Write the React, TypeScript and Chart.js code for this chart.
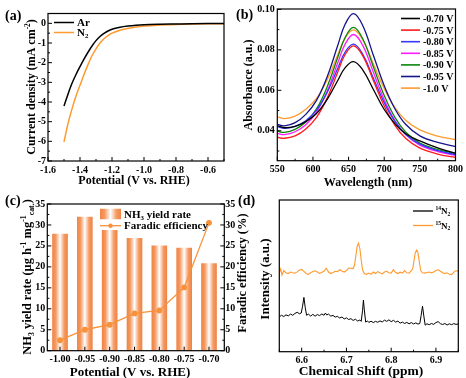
import React, { useEffect, useRef } from 'react';
import { Chart, registerables } from 'chart.js';

Chart.register(...registerables);

const FONT = "'Liberation Serif', 'Times New Roman', serif";
const ORANGE = '#FF9A2E';

// ---------- (a) LSV ----------
const lsvPotential = [-1.5, -1.475, -1.45, -1.425, -1.4, -1.375, -1.35, -1.325, -1.3, -1.275, -1.25, -1.225, -1.2, -1.15, -1.1, -1.05, -1.0, -0.9, -0.8, -0.7, -0.6, -0.5];
const lsvAr = [-4.2, -3.6, -3.05, -2.6, -2.2, -1.82, -1.47, -1.15, -0.88, -0.67, -0.51, -0.39, -0.3, -0.2, -0.14, -0.1, -0.075, -0.05, -0.035, -0.02, -0.01, -0.005];
const lsvN2 = [-6.03, -5.1, -4.35, -3.7, -3.15, -2.6, -2.1, -1.65, -1.3, -1.0, -0.78, -0.62, -0.5, -0.35, -0.26, -0.19, -0.14, -0.09, -0.06, -0.04, -0.025, -0.015];
const lsvXTicks = [-1.6, -1.4, -1.2, -1.0, -0.8, -0.6];
const lsvXLabels = ['-1.6', '-1.4', '-1.2', '-1.0', '-0.8', '-0.6'];
const lsvXMinor = [-1.5, -1.3, -1.1, -0.9, -0.7, -0.5];
const lsvYTicks = [0, -1, -2, -3, -4, -5, -6, -7];
const lsvYLabels = ['0', '-1', '-2', '-3', '-4', '-5', '-6', '-7'];
const lsvYMinor = [-0.5, -1.5, -2.5, -3.5, -4.5, -5.5, -6.5];

// ---------- (b) UV-vis ----------
const wavelengths = [550, 560, 575, 590, 605, 620, 635, 645, 657, 670, 685, 700, 715, 730, 750, 775, 800];
const uvLabels = ['-0.70 V', '-0.75 V', '-0.80 V', '-0.85 V', '-0.90 V', '-0.95 V', '-1.0 V'];
const uv070 = [0.0425, 0.0415, 0.0422, 0.0445, 0.0485, 0.0555, 0.0650, 0.0711, 0.0742, 0.0700, 0.0603, 0.0505, 0.0435, 0.0385, 0.0350, 0.0315, 0.0288];
const uv075 = [0.0368, 0.0363, 0.0375, 0.0409, 0.0466, 0.0562, 0.0692, 0.0776, 0.0820, 0.0770, 0.0646, 0.0522, 0.0427, 0.0363, 0.0314, 0.0285, 0.0268];
const uv080 = [0.0420, 0.0412, 0.0422, 0.0450, 0.0502, 0.0590, 0.0710, 0.0788, 0.0828, 0.0778, 0.0658, 0.0539, 0.0446, 0.0383, 0.0334, 0.0302, 0.0282];
const uv085 = [0.0387, 0.0381, 0.0395, 0.0430, 0.0492, 0.0596, 0.0737, 0.0827, 0.0876, 0.0821, 0.0687, 0.0553, 0.0450, 0.0381, 0.0329, 0.0297, 0.0279];
const uv090 = [0.0398, 0.0392, 0.0407, 0.0443, 0.0508, 0.0618, 0.0765, 0.0860, 0.0911, 0.0854, 0.0714, 0.0574, 0.0466, 0.0394, 0.0339, 0.0307, 0.0288];
const uv095 = [0.0432, 0.0424, 0.0440, 0.0481, 0.0550, 0.0667, 0.0824, 0.0925, 0.0979, 0.0919, 0.0771, 0.0623, 0.0509, 0.0432, 0.0375, 0.0342, 0.0322];
const uv100 = [0.0470, 0.0460, 0.0472, 0.0506, 0.0560, 0.0652, 0.0777, 0.0857, 0.0899, 0.0849, 0.0729, 0.0608, 0.0515, 0.0452, 0.0404, 0.0374, 0.0356];
const uvXTicks = [550, 600, 650, 700, 750, 800];
const uvXMinor = [575, 625, 675, 725, 775];
const uvYTicks = [0.04, 0.06, 0.08, 0.10];
const uvYLabels = ['0.04', '0.06', '0.08', '0.10'];
const uvYMinor = [0.03, 0.05, 0.07, 0.09];

// ---------- (c) yield / FE ----------
const potentials = [-1.0, -0.95, -0.9, -0.85, -0.8, -0.75, -0.7];
const potentialLabels = ['-1.00', '-0.95', '-0.90', '-0.85', '-0.80', '-0.75', '-0.70'];
const yieldRate = [27.8, 31.9, 28.7, 26.8, 25.0, 24.5, 20.8];
const faradicEff = [2.5, 5.0, 6.2, 8.9, 9.6, 15.1, 30.5];
const yieldTicks = [0, 5, 10, 15, 20, 25, 30, 35];
const yieldMinor = [2.5, 7.5, 12.5, 17.5, 22.5, 27.5, 32.5];

// ---------- (d) 1H NMR ----------
const nmr15N = [
  [6.550, 52.0], [6.553, 54.5], [6.556, 50.5], [6.560, 53.5], [6.565, 52.0], [6.570, 51.5], [6.575, 52.5], [6.580, 52.0],
  [6.585, 51.8], [6.590, 52.6], [6.595, 53.8], [6.600, 54.2], [6.605, 53.0], [6.610, 51.6], [6.615, 51.0], [6.620, 52.0],
  [6.625, 52.8], [6.630, 53.3], [6.635, 52.5], [6.640, 51.6], [6.645, 52.3], [6.650, 53.0], [6.655, 55.0], [6.660, 52.5],
  [6.665, 51.5], [6.670, 52.2], [6.675, 53.0], [6.680, 52.8], [6.685, 54.0], [6.690, 53.2], [6.695, 52.5], [6.700, 53.5],
  [6.705, 55.2], [6.710, 55.0], [6.715, 54.8], [6.718, 57.0], [6.721, 63.0], [6.724, 69.5], [6.727, 71.5], [6.730, 68.0],
  [6.733, 60.5], [6.736, 54.0], [6.740, 51.5], [6.745, 51.0], [6.750, 51.8], [6.755, 51.0], [6.760, 52.5], [6.765, 51.5],
  [6.770, 52.8], [6.775, 52.0], [6.780, 51.3], [6.785, 52.5], [6.790, 53.0], [6.795, 52.0], [6.800, 51.8], [6.805, 54.0],
  [6.810, 52.2], [6.815, 51.5], [6.820, 52.4], [6.825, 51.8], [6.830, 53.5], [6.835, 52.0], [6.840, 51.8], [6.845, 53.5],
  [6.848, 54.5], [6.851, 60.0], [6.854, 65.5], [6.857, 67.0], [6.860, 65.0], [6.863, 59.0], [6.866, 53.5], [6.870, 52.0],
  [6.875, 51.8], [6.880, 52.2], [6.885, 52.5], [6.890, 52.0], [6.895, 52.5], [6.900, 53.5], [6.905, 54.0], [6.910, 53.0],
  [6.915, 52.0], [6.920, 51.5], [6.925, 52.0], [6.930, 51.0], [6.935, 50.8], [6.940, 52.5], [6.945, 53.5], [6.950, 52.8],
];
const nmr14N = [
  [6.550, 23.0], [6.555, 24.0], [6.560, 23.2], [6.565, 24.3], [6.570, 23.6], [6.575, 24.8], [6.580, 24.0], [6.585, 25.2],
  [6.590, 26.0], [6.595, 25.0], [6.599, 25.5], [6.602, 30.0], [6.605, 35.8], [6.608, 29.0], [6.611, 24.0], [6.615, 24.8],
  [6.620, 23.5], [6.625, 24.6], [6.630, 23.4], [6.635, 24.5], [6.640, 23.8], [6.645, 24.9], [6.650, 24.0], [6.653, 25.5],
  [6.656, 24.2], [6.660, 24.8], [6.665, 23.5], [6.670, 23.9], [6.675, 22.8], [6.680, 23.3], [6.685, 22.2], [6.690, 22.9],
  [6.695, 21.6], [6.700, 22.3], [6.705, 21.2], [6.710, 21.8], [6.715, 20.6], [6.720, 21.4], [6.725, 20.2], [6.730, 20.9],
  [6.733, 20.0], [6.736, 27.0], [6.738, 34.0], [6.740, 27.5], [6.743, 19.5], [6.747, 20.3], [6.750, 19.3], [6.755, 20.1],
  [6.760, 19.2], [6.765, 20.0], [6.770, 19.4], [6.775, 20.3], [6.780, 19.6], [6.785, 20.8], [6.790, 20.0], [6.795, 21.0],
  [6.800, 19.8], [6.805, 20.7], [6.810, 19.5], [6.815, 20.2], [6.820, 18.8], [6.825, 19.5], [6.830, 18.6], [6.835, 19.3],
  [6.840, 18.4], [6.845, 19.2], [6.850, 18.3], [6.855, 19.0], [6.860, 18.2], [6.864, 18.6], [6.867, 24.0], [6.870, 30.0],
  [6.873, 23.5], [6.876, 17.5], [6.880, 18.4], [6.885, 17.8], [6.890, 18.6], [6.895, 18.0], [6.900, 19.2], [6.905, 19.8],
  [6.910, 18.5], [6.915, 17.9], [6.920, 18.6], [6.925, 17.6], [6.930, 18.4], [6.935, 17.8], [6.940, 18.5], [6.945, 18.0],
  [6.950, 18.3],
];
const nmrXTicks = [6.6, 6.7, 6.8, 6.9];
const nmrXLabels = ['6.6', '6.7', '6.8', '6.9'];
const nmrXMinor = [6.55, 6.65, 6.75, 6.85, 6.95];

// ---------- helpers ----------
type Seg = { t: string; sup?: boolean; sub?: boolean };
const S = (t: string): Seg[] => [{ t }];

function pairs(xs: number[], ys: number[]) {
  return xs.map((x, i) => ({ x, y: ys[i] }));
}

function drawRich(ctx: any, segs: Seg[], x: number, y: number, size: number, rot = 0, align = 'center') {
  ctx.save();
  ctx.translate(x, y);
  ctx.rotate(rot);
  const big = `bold ${size}px ${FONT}`;
  const small = `bold ${(size * 0.62).toFixed(1)}px ${FONT}`;
  let w = 0;
  for (const s of segs) {
    ctx.font = s.sup || s.sub ? small : big;
    w += ctx.measureText(s.t).width;
  }
  let cx = align === 'center' ? -w / 2 : 0;
  ctx.textBaseline = 'alphabetic';
  ctx.textAlign = 'left';
  ctx.fillStyle = '#000';
  const base = size * 0.34;
  for (const s of segs) {
    ctx.font = s.sup || s.sub ? small : big;
    const dy = s.sup ? -size * 0.4 : s.sub ? size * 0.2 : 0;
    ctx.fillText(s.t, cx, base + dy);
    cx += ctx.measureText(s.t).width;
  }
  ctx.restore();
}

function barGradient(ctx: any, x1: number, x2: number) {
  if (!isFinite(x1) || !isFinite(x2)) return '#F59B63';
  const g = ctx.createLinearGradient(x1, 0, x2, 0);
  g.addColorStop(0, '#F08445');
  g.addColorStop(0.22, '#F59B63');
  g.addColorStop(0.5, '#FFFFFF');
  g.addColorStop(0.78, '#F59B63');
  g.addColorStop(1, '#F08445');
  return g;
}

function decor(spec: any) {
  return {
    id: 'decor',
    afterDraw(chart: any) {
      const ctx = chart.ctx;
      const a = chart.chartArea;
      ctx.save();
      ctx.strokeStyle = '#000';
      ctx.lineWidth = 1.2;
      ctx.strokeRect(a.left, a.top, a.right - a.left, a.bottom - a.top);
      ctx.lineWidth = 1;
      for (const t of spec.ticks || []) {
        const sc = chart.scales[t.scale];
        const draw = (v: number, len: number) => {
          const p = sc.getPixelForValue(v);
          ctx.beginPath();
          if (t.side === 'bottom') { ctx.moveTo(p, a.bottom); ctx.lineTo(p, a.bottom - len); }
          else if (t.side === 'left') { ctx.moveTo(a.left, p); ctx.lineTo(a.left + len, p); }
          else { ctx.moveTo(a.right, p); ctx.lineTo(a.right - len, p); }
          ctx.stroke();
        };
        t.major.forEach((v: number) => draw(v, 4));
        (t.minor || []).forEach((v: number) => draw(v, 2));
      }
      for (const it of spec.legend || []) {
        if (it.kind === 'bar') {
          ctx.fillStyle = barGradient(ctx, it.x1, it.x2);
          ctx.fillRect(it.x1, it.y - it.h / 2, it.x2 - it.x1, it.h);
        } else {
          ctx.strokeStyle = it.color;
          ctx.lineWidth = it.width || 1.5;
          ctx.beginPath();
          ctx.moveTo(it.x1, it.y);
          ctx.lineTo(it.x2, it.y);
          ctx.stroke();
          if (it.marker) {
            ctx.fillStyle = it.color;
            ctx.beginPath();
            ctx.arc((it.x1 + it.x2) / 2, it.y, 2.2, 0, Math.PI * 2);
            ctx.fill();
          }
        }
        drawRich(ctx, it.label, it.tx, it.y, it.size, 0, 'left');
      }
      for (const tx of spec.texts || []) {
        drawRich(ctx, tx.segs, tx.x, tx.y, tx.size, tx.rot || 0, tx.align || 'center');
      }
      ctx.restore();
    },
  };
}

const tickFont = (size: number) => ({ family: FONT, weight: 'bold' as const, size });

function axis(opts: any) {
  const { min, max, ticks, labels, fit, fitKey, size, padding, position } = opts;
  return {
    type: 'linear',
    position,
    min,
    max,
    offset: false,
    grid: { display: false, drawTicks: false },
    border: { display: false },
    afterFit: (s: any) => { s[fitKey] = fit; },
    afterBuildTicks: (s: any) => { s.ticks = ticks.map((v: number) => ({ value: v })); },
    ticks: {
      color: '#000',
      font: tickFont(size),
      padding,
      autoSkip: false,
      maxRotation: 0,
      minRotation: 0,
      callback: (v: any, i: number) => (labels ? labels[i] : String(v)),
    },
  };
}

const base = (padding: any) => ({
  animation: false,
  responsive: false,
  devicePixelRatio: 1,
  events: [],
  layout: { padding },
  plugins: { legend: { display: false }, tooltip: { enabled: false } },
});

function makeA() {
  return {
    type: 'line',
    data: {
      datasets: [
        { label: 'Ar', data: pairs(lsvPotential, lsvAr), borderColor: '#000', borderWidth: 1.5, pointRadius: 0, cubicInterpolationMode: 'monotone' },
        { label: 'N2', data: pairs(lsvPotential, lsvN2), borderColor: ORANGE, borderWidth: 1.5, pointRadius: 0, cubicInterpolationMode: 'monotone' },
      ],
    },
    options: {
      ...base({ left: 0, top: 13.5, right: 9, bottom: 0 }),
      scales: {
        x: axis({ position: 'bottom', min: -1.6, max: -0.5, ticks: lsvXTicks, labels: lsvXLabels, fitKey: 'height', fit: 28, size: 10, padding: 3 }),
        y: axis({ position: 'left', min: -7, max: 0.5, ticks: lsvYTicks, labels: lsvYLabels, fitKey: 'width', fit: 48, size: 10, padding: 2 }),
      },
    },
    plugins: [decor({
      ticks: [
        { scale: 'x', side: 'bottom', major: lsvXTicks, minor: lsvXMinor },
        { scale: 'y', side: 'left', major: lsvYTicks, minor: lsvYMinor },
      ],
      legend: [
        { kind: 'line', x1: 54, x2: 74, y: 22.5, color: '#000', width: 1.5, tx: 77, size: 11, label: S('Ar') },
        { kind: 'line', x1: 54, x2: 74, y: 32.5, color: ORANGE, width: 1.5, tx: 77, size: 11, label: [{ t: 'N' }, { t: '2', sub: true }] },
      ],
      texts: [
        { segs: S('(a)'), x: 5, y: 15, size: 14, align: 'left' },
        { segs: [{ t: 'Current density (mA cm' }, { t: '-2', sup: true }, { t: ')' }], x: 31, y: 87, size: 12, rot: -Math.PI / 2 },
        { segs: S('Potential (V vs. RHE)'), x: 134, y: 180, size: 12 },
      ],
    })],
  };
}

function makeB() {
  const series = [uv070, uv075, uv080, uv085, uv090, uv095, uv100];
  const colors = ['#000000', '#FF1A1A', '#3838FF', '#FF1AFF', '#0A870A', '#14148C', ORANGE];
  return {
    type: 'line',
    data: {
      datasets: series.map((s, i) => ({
        label: uvLabels[i],
        data: pairs(wavelengths, s),
        borderColor: colors[i],
        borderWidth: 1.3,
        pointRadius: 0,
        tension: 0.4,
      })),
    },
    options: {
      ...base({ left: 0, top: 9, right: 8, bottom: 0 }),
      scales: {
        x: axis({ position: 'bottom', min: 550, max: 800, ticks: uvXTicks, fitKey: 'height', fit: 28.3, size: 10, padding: 3 }),
        y: axis({ position: 'left', min: 0.0252, max: 0.1002, ticks: uvYTicks, labels: uvYLabels, fitKey: 'width', fit: 44.3, size: 10, padding: 2.5 }),
      },
    },
    plugins: [decor({
      ticks: [
        { scale: 'x', side: 'bottom', major: uvXTicks, minor: uvXMinor },
        { scale: 'y', side: 'left', major: uvYTicks, minor: uvYMinor },
      ],
      legend: uvLabels.map((l, i) => ({
        kind: 'line', x1: 168, x2: 187, y: 18.5 + 11.6 * i, color: colors[i], width: 1.6, tx: 190, size: 10, label: S(l),
      })),
      texts: [
        { segs: S('(b)'), x: 3, y: 14, size: 14, align: 'left' },
        { segs: S('Absorbance (a.u.)'), x: 15, y: 85, size: 12, rot: -Math.PI / 2 },
        { segs: S('Wavelength (nm)'), x: 135, y: 182, size: 12 },
      ],
    })],
  };
}

function makeC() {
  return {
    type: 'bar',
    data: {
      datasets: [
        {
          type: 'line',
          label: 'Faradic efficiency',
          data: pairs(potentials, faradicEff),
          yAxisID: 'y2',
          borderColor: '#F7923A',
          backgroundColor: '#F7923A',
          borderWidth: 1.3,
          pointRadius: 2.3,
          pointBackgroundColor: '#F7923A',
          pointBorderColor: '#F7923A',
          tension: 0,
          order: 1,
        },
        {
          type: 'bar',
          label: 'NH3 yield rate',
          data: pairs(potentials, yieldRate),
          yAxisID: 'y',
          barThickness: 15,
          borderWidth: 0,
          order: 2,
          backgroundColor: (c: any) => {
            const xs = c.chart.scales && c.chart.scales.x;
            if (!xs || c.dataIndex === undefined) return '#F59B63';
            const px = xs.getPixelForValue(potentials[c.dataIndex]);
            return barGradient(c.chart.ctx, px - 7.5, px + 7.5);
          },
        },
      ],
    },
    options: {
      ...base({ left: 0, top: 15, right: 0, bottom: 0 }),
      scales: {
        x: axis({ position: 'bottom', min: -1.0256, max: -0.6692, ticks: potentials, labels: potentialLabels, fitKey: 'height', fit: 27.3, size: 10, padding: 3 }),
        y: axis({ position: 'left', min: 0, max: 35, ticks: yieldTicks, fitKey: 'width', fit: 47.3, size: 10, padding: 2 }),
        y2: axis({ position: 'right', min: 0, max: 35, ticks: yieldTicks, fitKey: 'width', fit: 25.7, size: 10, padding: 1 }),
      },
    },
    plugins: [decor({
      ticks: [
        { scale: 'x', side: 'bottom', major: potentials },
        { scale: 'y', side: 'left', major: yieldTicks, minor: yieldMinor },
        { scale: 'y2', side: 'right', major: yieldTicks, minor: yieldMinor },
      ],
      legend: [
        { kind: 'bar', x1: 100, x2: 121, y: 25, h: 10.5, tx: 124, size: 11, label: [{ t: 'NH' }, { t: '3', sub: true }, { t: ' yield rate' }] },
        { kind: 'line', x1: 100, x2: 121, y: 36.7, color: '#F7923A', width: 1.3, marker: true, tx: 124, size: 11, label: S('Faradic efficiency') },
      ],
      texts: [
        { segs: S('(c)'), x: 5, y: 11, size: 14, align: 'left' },
        { segs: [{ t: 'NH' }, { t: '3', sub: true }, { t: ' yield rate (\u03bcg h' }, { t: '-1', sup: true }, { t: ' mg' }, { t: '-1', sup: true }, { t: 'cat.', sub: true }, { t: ')' }], x: 27, y: 88, size: 12.5, rot: -Math.PI / 2 },
        { segs: S('Faradic efficiency (%)'), x: 242, y: 84, size: 12.5, rot: -Math.PI / 2 },
        { segs: S('Potential (V vs. RHE)'), x: 130, y: 183, size: 13 },
      ],
    })],
  };
}

function makeD() {
  return {
    type: 'line',
    data: {
      datasets: [
        { label: '14N2', data: nmr14N.map(([x, y]) => ({ x, y })), borderColor: '#000', borderWidth: 1, pointRadius: 0, tension: 0 },
        { label: '15N2', data: nmr15N.map(([x, y]) => ({ x, y })), borderColor: ORANGE, borderWidth: 1.1, pointRadius: 0, tension: 0 },
      ],
    },
    options: {
      ...base({ left: 46.3, top: 11, right: 7.7, bottom: 0 }),
      scales: {
        x: axis({ position: 'bottom', min: 6.55, max: 6.95, ticks: nmrXTicks, labels: nmrXLabels, fitKey: 'height', fit: 26.3, size: 10, padding: 3 }),
        y: { type: 'linear', display: false, min: 0, max: 100 },
      },
    },
    plugins: [decor({
      ticks: [{ scale: 'x', side: 'bottom', major: nmrXTicks, minor: nmrXMinor }],
      legend: [
        { kind: 'line', x1: 180, x2: 200, y: 22, color: '#000', width: 1.3, tx: 202.5, size: 9, label: [{ t: '14', sup: true }, { t: 'N' }, { t: '2', sub: true }] },
        { kind: 'line', x1: 180, x2: 200, y: 36.5, color: ORANGE, width: 1.3, tx: 202.5, size: 9, label: [{ t: '15', sup: true }, { t: 'N' }, { t: '2', sub: true }] },
      ],
      texts: [
        { segs: S('(d)'), x: 5, y: 11, size: 14, align: 'left' },
        { segs: S('Intensity (a.u.)'), x: 32, y: 90, size: 13, rot: -Math.PI / 2 },
        { segs: S('Chemical Shift (ppm)'), x: 128, y: 181, size: 13.5 },
      ],
    })],
  };
}

function ChartPanel({ left, top, width, height, make }: any) {
  const ref = useRef<HTMLCanvasElement>(null);
  useEffect(() => {
    const chart = new Chart(ref.current as HTMLCanvasElement, make());
    return () => chart.destroy();
  }, []);
  return (
    <canvas
      ref={ref}
      width={width}
      height={height}
      style={{ position: 'absolute', left, top, width, height }}
    />
  );
}

export default function App() {
  return (
    <div style={{ position: 'fixed', left: 0, top: 0, width: 466, height: 378, background: '#fff', overflow: 'hidden' }}>
      <ChartPanel left={0} top={0} width={233} height={189} make={makeA} />
      <ChartPanel left={233} top={0} width={233} height={189} make={makeB} />
      <ChartPanel left={0} top={189} width={250} height={189} make={makeC} />
      <ChartPanel left={233} top={189} width={233} height={189} make={makeD} />
    </div>
  );
}
